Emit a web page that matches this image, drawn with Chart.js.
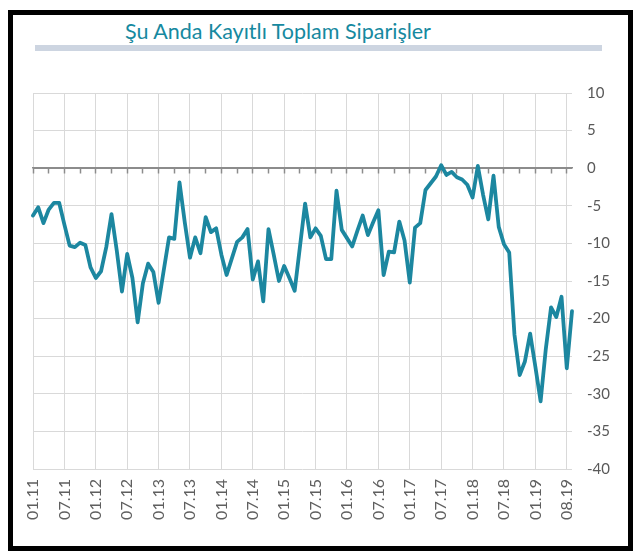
<!DOCTYPE html>
<html>
<head>
<meta charset="utf-8">
<script src="https://cdn.jsdelivr.net/npm/chart.js@4.4.0/dist/chart.umd.min.js"></script>
<style>
  body { margin: 0; background: #fff; }
  #marco { position: absolute; left: 8px; top: 10px; width: 615px; height: 531px; border: 5px solid #000; }
  #titulo { position: absolute; left: 0; top: 18px; width: 556px; text-align: center;
            font-family: Lato, sans-serif; font-size: 21.5px; color: #1689a0; }
  #barra { position: absolute; left: 35px; top: 45px; width: 567px; height: 6px; background: #cdd5e1; }
  #lienzo { position: absolute; left: 0; top: 0; }
</style>
</head>
<body>
<div id="marco"></div>
<div id="titulo">Şu Anda Kayıtlı Toplam Siparişler</div>
<div id="barra"></div>
<canvas id="lienzo" width="640" height="559"></canvas>
<script>
// Etiquetas mensuales 01.11 .. 08.19
var meses = [];
for (var a = 11; a <= 19; a++) {
    for (var m = 1; m <= 12; m++) {
        if (a === 19 && m > 8) break;
        meses.push((m < 10 ? '0' + m : '' + m) + '.' + a);
    }
}

// Valores (uno por mes)
var valores = [
    -6.3, -5.2, -7.3, -5.5, -4.6, -4.6, -7.5, -10.3, -10.5, -9.9, -10.2, -13.2,
    -14.6, -13.7, -10.5, -6.1, -10.9, -16.4, -11.4, -14.6, -20.5, -15.3, -12.7, -13.8,
    -17.9, -13.5, -9.2, -9.4, -1.9, -7.2, -11.9, -9.2, -11.3, -6.5, -8.5, -8.0,
    -11.5, -14.2, -12.0, -9.8, -9.2, -8.1, -14.8, -12.4, -17.7, -8.1, -11.5, -15.0,
    -13.0, -14.6, -16.3, -10.5, -4.7, -9.2, -8.0, -9.0, -12.1, -12.1, -3.0, -8.2,
    -9.3, -10.4, -8.3, -6.3, -8.9, -7.2, -5.6, -14.2, -11.1, -11.2, -7.1, -9.6,
    -15.2, -7.9, -7.3, -2.9, -2.0, -1.1, 0.4, -0.9, -0.5, -1.2, -1.5, -2.2,
    -3.9, 0.3, -3.5, -6.8, -1.0, -7.8, -10.1, -11.2, -22.1, -27.5, -25.7, -22.0,
    -26.4, -31.0, -24.0, -18.5, -19.8, -17.1, -26.6, -19.0
];

// Etiquetas visibles del eje X (cada 6 meses)
var etiquetasX = ['01.11', '07.11', '01.12', '07.12', '01.13', '07.13', '01.14', '07.14', '01.15',
    '07.15', '01.16', '07.16', '01.17', '07.17', '01.18', '07.18', '01.19', '08.19'];

// Escala Y
var yMin = -40;
var yMax = 10;
var yPaso = 5;

var gris = '#d9d9d9';
var ejeGris = '#8c8c8c';

new Chart(document.getElementById('lienzo'), {
    type: 'line',
    data: {
        labels: meses,
        datasets: [{
            data: valores,
            borderColor: '#1c87a0',
            borderWidth: 3.8,
            borderJoinStyle: 'round',
            borderCapStyle: 'round',
            pointRadius: 0,
            tension: 0,
            fill: false
        }]
    },
    options: {
        responsive: false,
        animation: false,
        layout: { padding: { left: 33, top: 93, right: 18, bottom: 28 } },
        plugins: { legend: { display: false }, tooltip: { enabled: false } },
        scales: {
            x: {
                offset: false,
                grid: {
                    color: function (ctx) { return ctx.index % 6 === 0 ? gris : 'transparent'; },
                    drawTicks: false
                },
                border: { display: false },
                ticks: {
                    autoSkip: false,
                    minRotation: 90,
                    maxRotation: 90,
                    padding: 10,
                    color: '#5f5f5f',
                    font: { family: 'Lato', size: 16 },
                    callback: function (v, i) { return i % 6 === 0 ? etiquetasX[i / 6] : ''; }
                },
                afterFit: function (s) { s.height = 62; }
            },
            eje0: {
                type: 'category',
                axis: 'x',
                position: { y: 0 },
                offset: false,
                grid: {
                    drawOnChartArea: false,
                    tickLength: 5,
                    tickWidth: 1.5,
                    tickColor: function (ctx) { return ctx.index % 3 === 0 ? ejeGris : 'transparent'; }
                },
                border: { display: true, color: ejeGris, width: 1.5 },
                ticks: { display: false, autoSkip: false }
            },
            y: {
                position: 'right',
                min: yMin,
                max: yMax,
                grid: {
                    color: function (ctx) { return ctx.tick.value === 0 ? ejeGris : gris; },
                    drawTicks: false
                },
                border: { display: false },
                ticks: {
                    stepSize: yPaso,
                    padding: 15,
                    color: '#595959',
                    font: { family: 'Lato', size: 15 }
                },
                afterFit: function (s) { s.width = 50; }
            }
        }
    }
});
</script>
</body>
</html>
